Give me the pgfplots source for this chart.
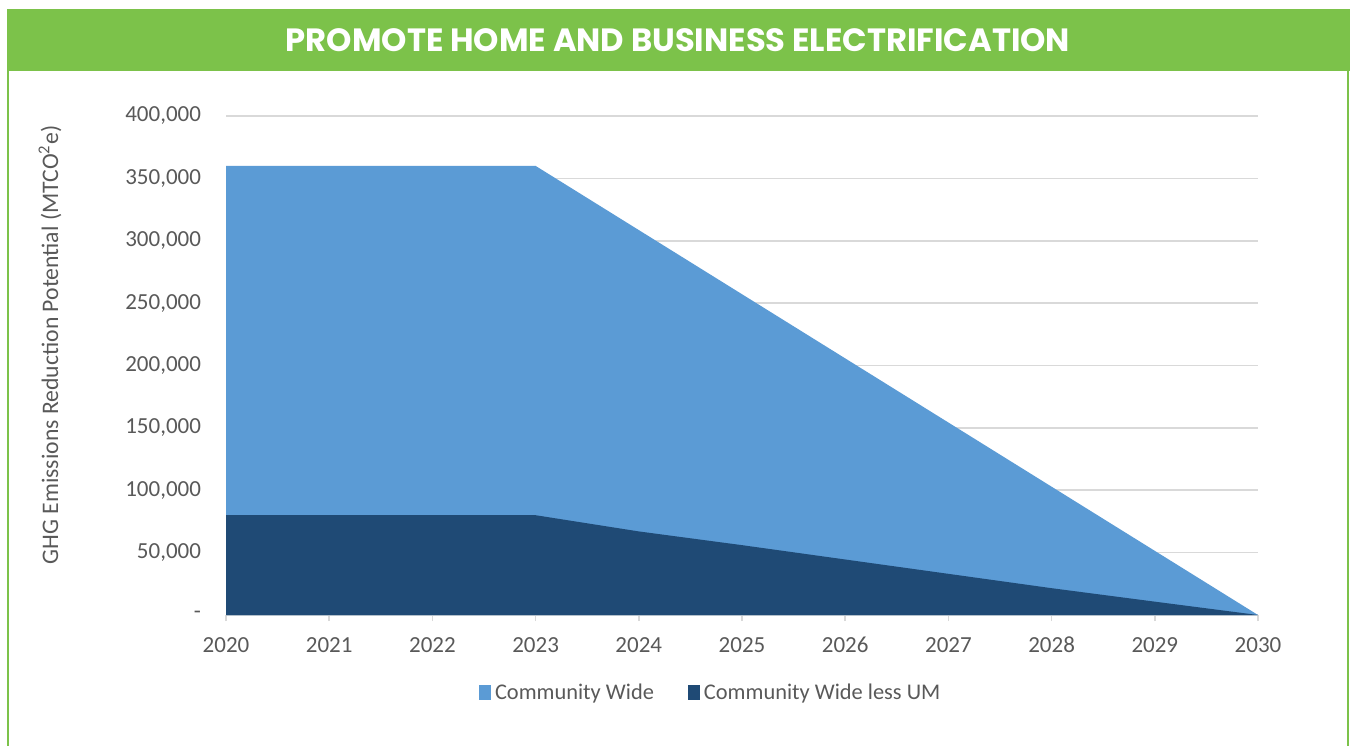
\documentclass[border=0pt]{standalone}
\usepackage{pgfplots}
\pgfplotsset{compat=1.18}
\usepackage{fontspec}
\setmainfont{Carlito}
\newfontfamily\titlefont{Poppins}

\definecolor{framegreen}{HTML}{7CC24A}
\definecolor{cwblue}{HTML}{5B9BD5}
\definecolor{cwdark}{HTML}{1F4A75}
\definecolor{txtgray}{HTML}{595959}
\definecolor{gridgray}{HTML}{D9D9D9}

\begin{document}
\begin{tikzpicture}[x=0.5pt,y=0.5pt]
\useasboundingbox (0,0) rectangle (1352,745);
% frame and header (pixel coords, y flipped)
\fill[framegreen] (7,735.5) rectangle (1350,674);
\fill[framegreen] (7,674) rectangle (9.3,-10);
\fill[framegreen] (1346.8,674) rectangle (1349.2,-10);
\node[text=white,font=\titlefont\bfseries\fontsize{16.1}{18}\selectfont] at (678,705) {PROMOTE HOME AND BUSINESS ELECTRIFICATION};

\begin{axis}[
  at={(113pt,65pt)}, anchor=south west,
  scale only axis, width=516pt, height=249.5pt,
  xmin=2020, xmax=2030, ymin=0, ymax=400000,
  xtick={2020,2021,...,2030},
  xticklabels={2020,2021,2022,2023,2024,2025,2026,2027,2028,2029,2030},
  ytick={0,50000,...,400000},
  yticklabels={\raisebox{-2pt}{-},{50,000},{100,000},{150,000},{200,000},{250,000},{300,000},{350,000},{400,000}},
  scaled y ticks=false,
  axis x line*=bottom, axis y line*=left,
  x axis line style={gridgray,line width=0.8pt,-},
  y axis line style={draw=none},
  ymajorgrids, grid style={gridgray,line width=0.8pt},
  tick align=outside,
  x tick style={gridgray,line width=0.8pt}, major tick length=3pt,
  y tick style={draw=none},
  tick label style={text=txtgray,font=\fontsize{11.5}{13}\selectfont},
  xticklabel style={yshift=-4.5pt},
  yticklabel style={xshift=-6pt},
  ylabel={GHG Emissions Reduction Potential (MTCO\textsuperscript{2}e)},
  ylabel style={at={(axis description cs:-0.1705,0.541)},anchor=center,
    text=txtgray,font=\fontsize{11.85}{13}\selectfont},
  legend columns=2,
  legend style={draw=none,fill=none,at={(0.239,-0.156)},anchor=west,
    font=\fontsize{11.2}{13}\selectfont,text=txtgray,
    /tikz/every even column/.append style={column sep=15pt}},
  legend image code/.code={\fill[#1] (-1.5pt,-3.75pt) rectangle (4.5pt,3.75pt);},
]
\addplot[draw=none,fill=cwblue] coordinates {
  (2020,360000) (2021,360000) (2022,360000) (2023,360000)
  (2024,308571) (2025,257143) (2026,205714) (2027,154286)
  (2028,102857) (2029,51429) (2030,0)
} \closedcycle;
\addlegendentry{Community Wide}
\addplot[draw=none,fill=cwdark] coordinates {
  (2020,80000) (2021,80000) (2022,80000) (2023,80000)
  (2024,67000) (2025,56000) (2026,44500) (2027,33000)
  (2028,21500) (2029,10700) (2030,0)
} \closedcycle;
\addlegendentry{Community Wide less UM}
\end{axis}
\end{tikzpicture}
\end{document}
